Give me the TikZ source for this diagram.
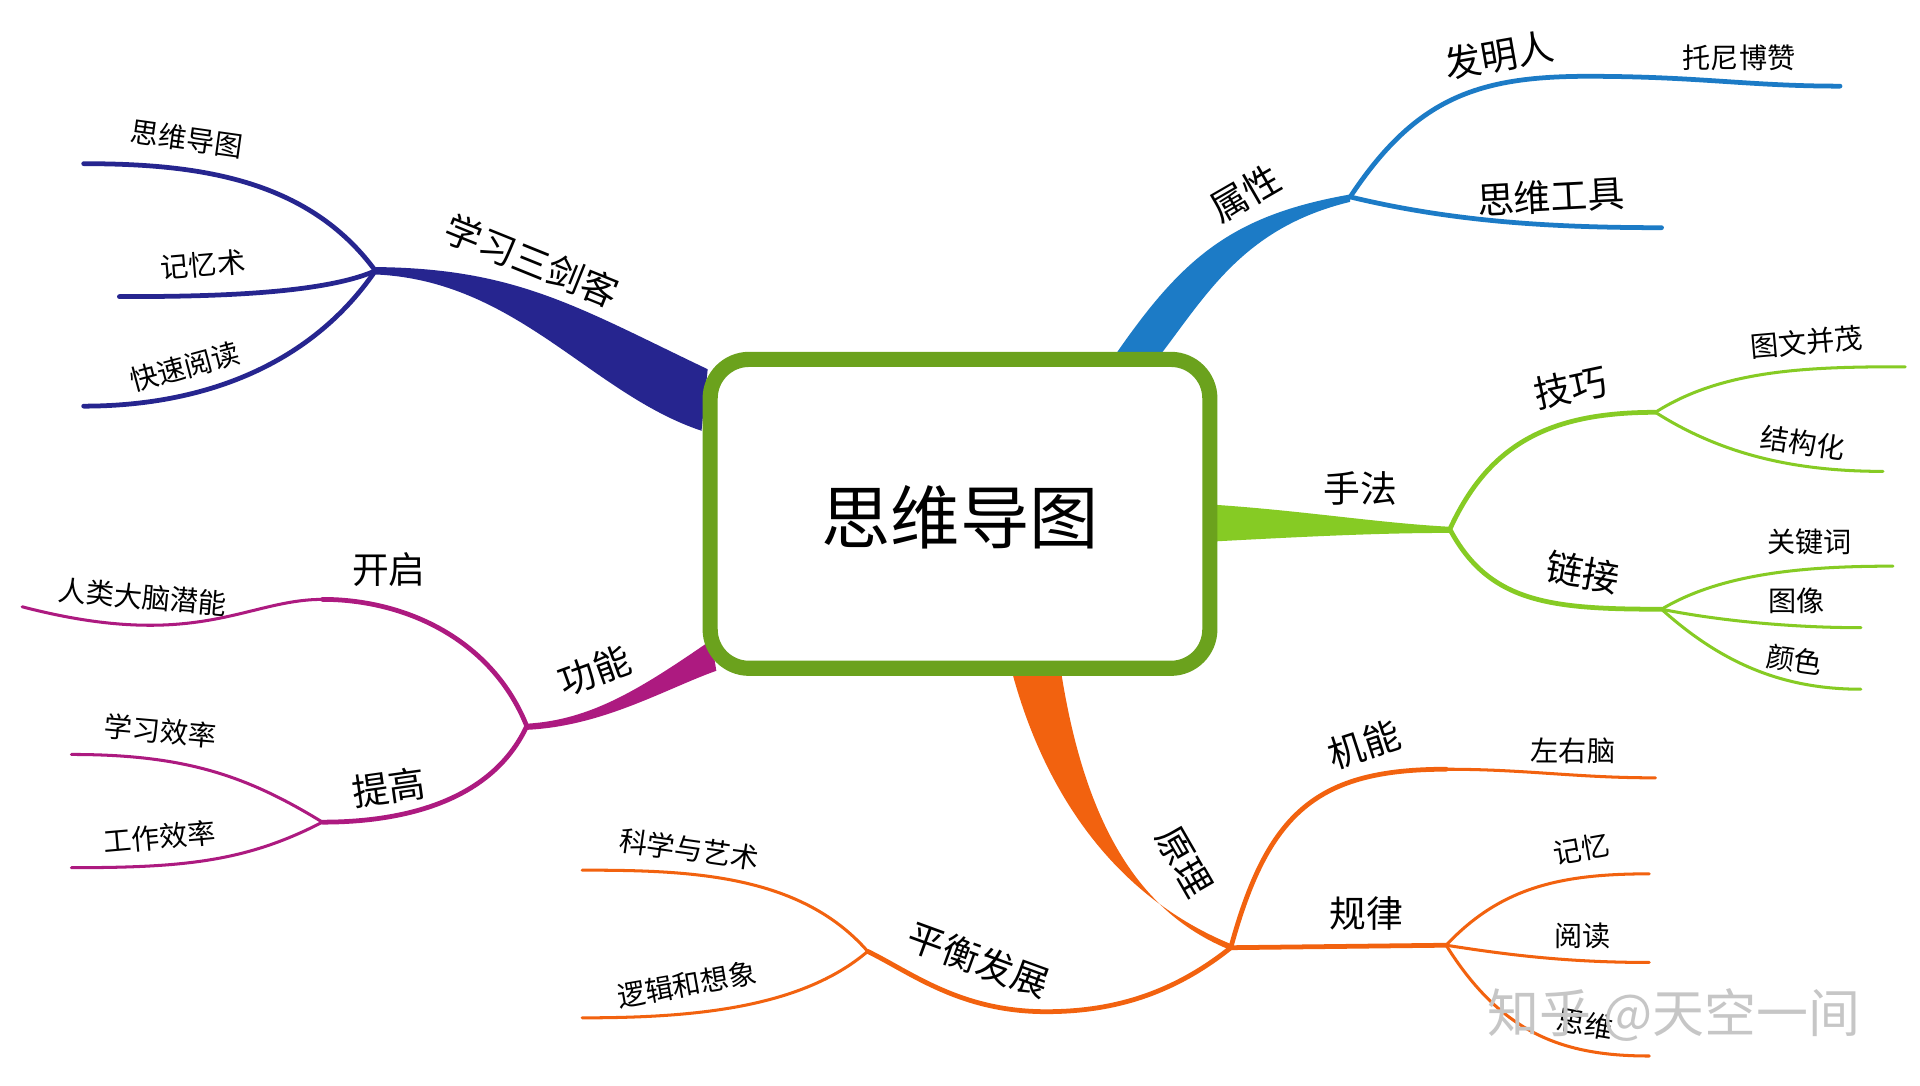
\documentclass[tikz,border=0pt]{standalone}
\usepackage{fontspec}
\setmainfont{Noto Sans CJK SC}
\begin{document}
\begin{tikzpicture}[x=0.01cm,y=-0.01cm,
  sub/.style={line width=1.1pt,line cap=round},
  leaf/.style={line width=0.7pt,line cap=round},
  lab/.style={font=\fontsize{8.5}{9}\selectfont,inner sep=0pt},
  lf/.style={font=\fontsize{6.5}{7}\selectfont,inner sep=0pt}]
\definecolor{navy}{HTML}{26258F}
\definecolor{blu}{HTML}{1C7BC6}
\definecolor{grn}{HTML}{86CB24}
\definecolor{org}{HTML}{F2620F}
\definecolor{pur}{HTML}{AD1A80}
\useasboundingbox (0,0) rectangle (1560,882);
\fill[white] (0,0) rectangle (1560,882);
% ---- navy
\coordinate (n0) at (305,220);
\fill[navy] (575,300) .. controls (470,250) and (420,218) .. (305,217) -- (305,223) .. controls (420,228) and (480,320) .. (570,350) -- cycle;
\draw[navy,sub] (n0) .. controls (250,145) and (160,133) .. (68,133);
\draw[navy,sub] (n0) .. controls (260,240) and (160,241) .. (97,241);
\draw[navy,sub] (n0) .. controls (250,300) and (160,330) .. (68,330);
\node[lab,rotate=-22] (t1) at (432,212) {学习三剑客};
\node[lf,rotate=-8] (t1a) at (152,113) {思维导图};
\node[lf,rotate=5] (t1b) at (165,215) {记忆术};
\node[lf,rotate=15] (t1c) at (150,298) {快速阅读};
% ---- blue
\coordinate (b0) at (1097,160);
\fill[blu] (905,290) .. controls (960,210) and (1000,175) .. (1097,158) -- (1097,164) .. controls (1010,185) and (980,240) .. (940,292) -- cycle;
\draw[blu,sub] (b0) .. controls (1150,80) and (1200,62) .. (1290,62) .. controls (1380,62) and (1420,70) .. (1495,70);
\draw[blu,sub] (b0) .. controls (1180,180) and (1260,185) .. (1350,185);
\node[lab,rotate=30] (t2) at (1012,157) {属性};
\node[lab,rotate=10] (t2a) at (1218,45) {发明人};
\node[lf] (t2b) at (1413,47) {托尼博赞};
\node[lab,rotate=3] (t2c) at (1260,160) {思维工具};
% ---- green
\coordinate (g0) at (1178,430);
\coordinate (g1) at (1345,335);
\coordinate (g2) at (1350,495);
\fill[grn] (985,410) .. controls (1060,415) and (1120,425) .. (1178,428) -- (1178,433) .. controls (1120,433) and (1060,436) .. (985,440) -- cycle;
\draw[grn,sub] (g0) .. controls (1210,360) and (1260,335) .. (g1);
\draw[grn,sub] (g0) .. controls (1210,490) and (1260,495) .. (g2);
\draw[grn,leaf] (g1) .. controls (1400,300) and (1470,298) .. (1548,298);
\draw[grn,leaf] (g1) .. controls (1400,370) and (1460,383) .. (1530,383);
\draw[grn,leaf] (g2) .. controls (1400,465) and (1470,460) .. (1538,460);
\draw[grn,leaf] (g2) .. controls (1400,505) and (1460,510) .. (1512,510);
\draw[grn,leaf] (g2) .. controls (1400,540) and (1450,560) .. (1512,560);
\node[lab] (t3) at (1105,397) {手法};
\node[lab,rotate=12] (t3a) at (1276,315) {技巧};
\node[lab,rotate=-10] (t3b) at (1286,465) {链接};
\node[lf,rotate=5] (t3c) at (1468,278) {图文并茂};
\node[lf,rotate=-8] (t3d) at (1465,360) {结构化};
\node[lf] (t3e) at (1470,440) {关键词};
\node[lf] (t3f) at (1460,488) {图像};
\node[lf,rotate=-8] (t3g) at (1458,536) {颜色};
% ---- orange
\coordinate (o0) at (1000,770);
\coordinate (o1) at (1175,625);
\coordinate (o2) at (1175,768);
\coordinate (o3) at (705,773);
\fill[org] (822,545) .. controls (850,650) and (910,730) .. (1000,767) -- (1000,772) .. controls (920,740) and (880,660) .. (862,545) -- cycle;
\draw[org,sub] (o0) .. controls (1030,660) and (1070,625) .. (o1);
\draw[org,sub] (o0) -- (o2);
\draw[org,sub] (o0) .. controls (950,810) and (900,822) .. (850,822) .. controls (780,822) and (740,790) .. (o3);
\draw[org,leaf] (o1) .. controls (1240,625) and (1280,632) .. (1345,632);
\draw[org,leaf] (o2) .. controls (1220,720) and (1270,710) .. (1340,710);
\draw[org,leaf] (o2) .. controls (1220,775) and (1270,782) .. (1340,782);
\draw[org,leaf] (o2) .. controls (1220,840) and (1270,858) .. (1340,858);
\draw[org,leaf] (o3) .. controls (650,710) and (560,707) .. (473,707);
\draw[org,leaf] (o3) .. controls (650,820) and (560,827) .. (473,827);
\node[lab,rotate=-60] (t4) at (962,700) {原理};
\node[lab,rotate=18] (t4a) at (1108,605) {机能};
\node[lab] (t4b) at (1110,742) {规律};
\node[lab,rotate=-20] (t4c) at (795,780) {平衡发展};
\node[lf] (t4d) at (1278,610) {左右脑};
\node[lf,rotate=10] (t4e) at (1285,690) {记忆};
\node[lf] (t4f) at (1286,760) {阅读};
\node[lf,rotate=-10] (t4g) at (1288,832) {思维};
\node[lf,rotate=-8] (t4h) at (560,690) {科学与艺术};
\node[lf,rotate=10] (t4i) at (558,800) {逻辑和想象};
% ---- purple
\coordinate (p0) at (428,590);
\coordinate (p1) at (262,487);
\coordinate (p2) at (262,668);
\fill[pur] (578,520) .. controls (520,560) and (480,585) .. (428,588) -- (428,593) .. controls (490,590) and (540,560) .. (582,545) -- cycle;
\draw[pur,sub] (p0) .. controls (400,520) and (330,487) .. (p1);
\draw[pur,sub] (p0) .. controls (400,650) and (330,668) .. (p2);
\draw[pur,leaf] (p1) .. controls (200,487) and (160,530) .. (18,493);
\draw[pur,leaf] (p2) .. controls (200,630) and (150,613) .. (58,613);
\draw[pur,leaf] (p2) .. controls (200,700) and (150,705) .. (58,705);
\node[lab,rotate=20] (t5) at (483,545) {功能};
\node[lab] (t5a) at (316,463) {开启};
\node[lab,rotate=8] (t5b) at (316,640) {提高};
\node[lf,rotate=-5] (t5c) at (116,485) {人类大脑潜能};
\node[lf,rotate=-5] (t5d) at (130,594) {学习效率};
\node[lf,rotate=5] (t5e) at (130,680) {工作效率};
% ---- center
\draw[grn!80!black,line width=3.5pt,rounded corners=9pt,fill=white] (577,292) rectangle (983,543);
\node[font=\fontsize{16}{17}\selectfont] (ct) at (780,420) {思维导图};
% watermark
\node[font=\fontsize{12}{13}\selectfont,text=gray!45] (wm) at (1360,825) {知乎 @天空一间};
\end{tikzpicture}
\end{document}
